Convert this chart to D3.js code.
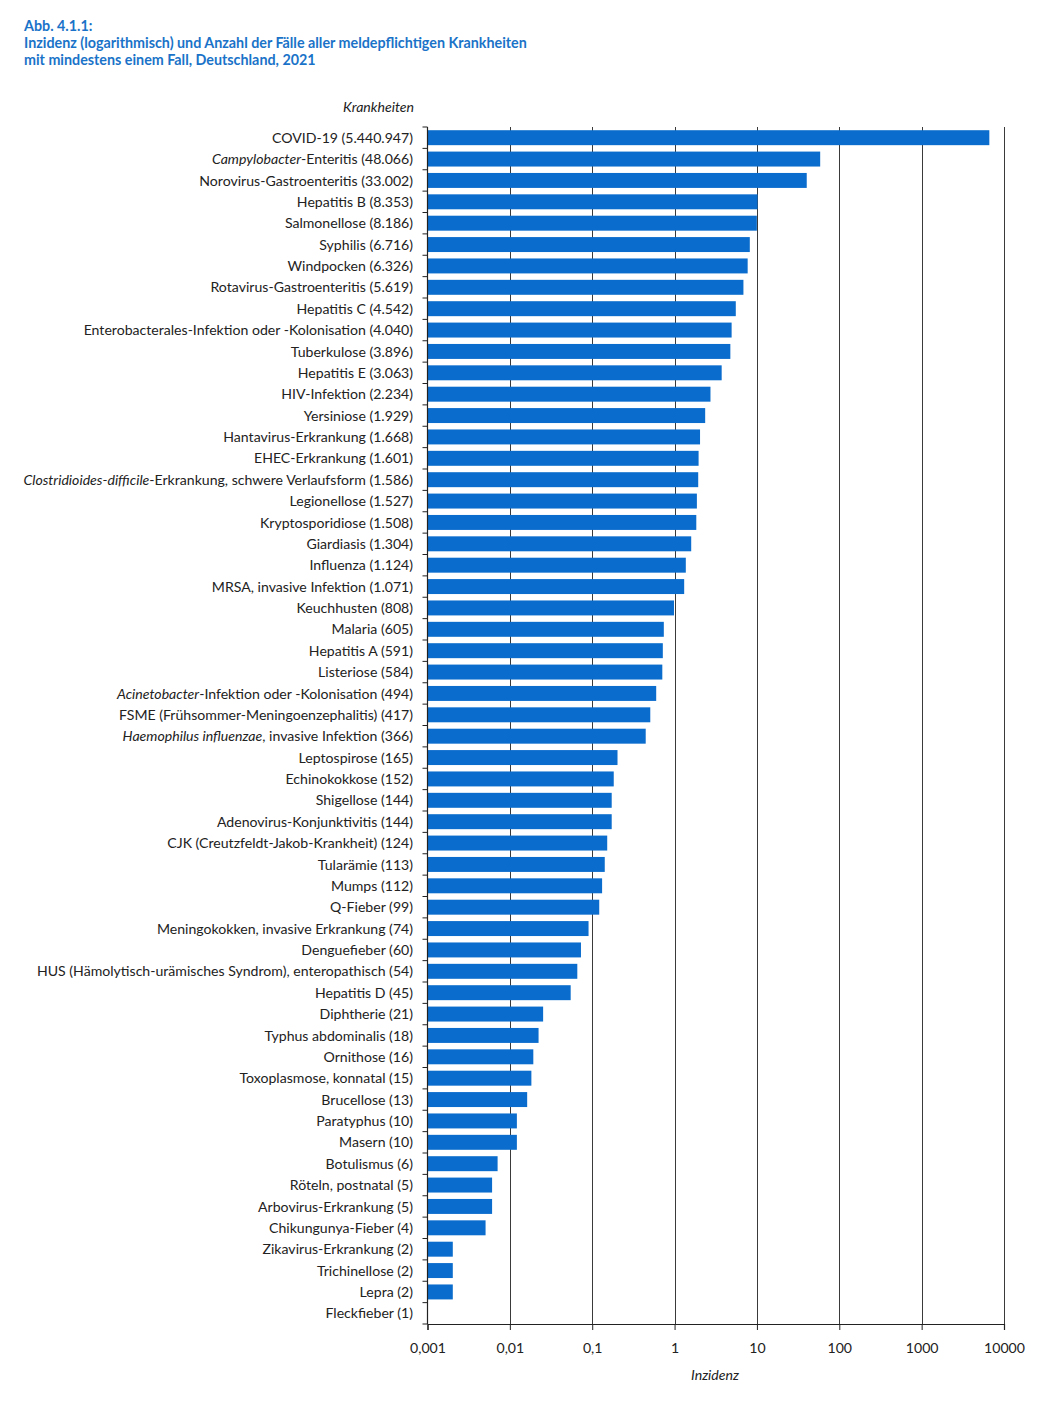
<!DOCTYPE html>
<html><head><meta charset="utf-8">
<script src="https://cdn.jsdelivr.net/npm/d3@7"></script>
<style>
html,body{margin:0;padding:0;background:#fff;}
svg{display:block;}
text{font-family:Lato,"Open Sans",sans-serif;}
</style></head>
<body>
<svg id="chart" width="1050" height="1413"></svg>
<script>
const titleLines = ["Abb. 4.1.1:",
  "Inzidenz (logarithmisch) und Anzahl der Fälle aller meldepflichtigen Krankheiten",
  "mit mindestens einem Fall, Deutschland, 2021"];
const yAxisTitle = "Krankheiten";
const xAxisTitle = "Inzidenz";

// italic leading part of label (if any), regular rest
const italicParts = ["", "Campylobacter", "", "", "", "", "", "", "", "", "", "", "", "", "", "",
  "Clostridioides-difficile", "", "", "", "", "", "", "", "", "", "Acinetobacter", "", "Haemophilus influenzae",
  "", "", "", "", "", "", "", "", "", "", "", "", "", "", "", "", "", "", "", "", "", "", "", "", "", "", ""];
const names = ["COVID-19", "Campylobacter-Enteritis", "Norovirus-Gastroenteritis", "Hepatitis B", "Salmonellose",
  "Syphilis", "Windpocken", "Rotavirus-Gastroenteritis", "Hepatitis C", "Enterobacterales-Infektion oder -Kolonisation",
  "Tuberkulose", "Hepatitis E", "HIV-Infektion", "Yersiniose", "Hantavirus-Erkrankung", "EHEC-Erkrankung",
  "Clostridioides-difficile-Erkrankung, schwere Verlaufsform", "Legionellose", "Kryptosporidiose", "Giardiasis",
  "Influenza", "MRSA, invasive Infektion", "Keuchhusten", "Malaria", "Hepatitis A", "Listeriose",
  "Acinetobacter-Infektion oder -Kolonisation", "FSME (Frühsommer-Meningoenzephalitis)",
  "Haemophilus influenzae, invasive Infektion", "Leptospirose", "Echinokokkose", "Shigellose",
  "Adenovirus-Konjunktivitis", "CJK (Creutzfeldt-Jakob-Krankheit)", "Tularämie", "Mumps", "Q-Fieber",
  "Meningokokken, invasive Erkrankung", "Denguefieber", "HUS (Hämolytisch-urämisches Syndrom), enteropathisch",
  "Hepatitis D", "Diphtherie", "Typhus abdominalis", "Ornithose", "Toxoplasmose, konnatal", "Brucellose",
  "Paratyphus", "Masern", "Botulismus", "Röteln, postnatal", "Arbovirus-Erkrankung", "Chikungunya-Fieber",
  "Zikavirus-Erkrankung", "Trichinellose", "Lepra", "Fleckfieber"];
const cases = ["5.440.947", "48.066", "33.002", "8.353", "8.186", "6.716", "6.326", "5.619", "4.542", "4.040",
  "3.896", "3.063", "2.234", "1.929", "1.668", "1.601", "1.586", "1.527", "1.508", "1.304", "1.124", "1.071",
  "808", "605", "591", "584", "494", "417", "366", "165", "152", "144", "144", "124", "113", "112", "99",
  "74", "60", "54", "45", "21", "18", "16", "15", "13", "10", "10", "6", "5", "5", "4", "2", "2", "2", "1"];
const incidence = [6543.5, 57.81, 39.69, 10.05, 9.84, 8.08, 7.61, 6.76, 5.46, 4.86,
  4.69, 3.68, 2.69, 2.32, 2.01, 1.93, 1.91, 1.84, 1.81, 1.57, 1.35, 1.29,
  0.97, 0.73, 0.71, 0.70, 0.59, 0.50, 0.44, 0.20, 0.18, 0.17, 0.17, 0.15, 0.14, 0.13, 0.12,
  0.089, 0.072, 0.065, 0.054, 0.025, 0.022, 0.019, 0.018, 0.016, 0.012, 0.012, 0.007, 0.006, 0.006, 0.005,
  0.002, 0.002, 0.002, 0.001];
const xTickValues = [0.001, 0.01, 0.1, 1, 10, 100, 1000, 10000];
const xTickLabels = ["0,001", "0,01", "0,1", "1", "10", "100", "1000", "10000"];

(function () {
const blue = "#0a6ccc";
const titleBlue = "#1a73c8";
const ink = "#222";
const fs = 14.1;

const svg = d3.select("#chart");

// Title
svg.append("g").selectAll("text").data(titleLines).join("text")
  .attr("x", 24).attr("y", (d, i) => 31 + i * 17)
  .attr("fill", titleBlue).attr("font-weight", "bold").attr("font-size", 14.3)
  .text(d => d);

const pLeft = 427.5, pRight = 1004, pTop = 127, pBottom = 1324;
const x = d3.scaleLog().domain([0.001, 10000]).range([pLeft, pRight]);
const y = d3.scaleBand().domain(names).range([pTop, pBottom]).paddingInner(0.3).paddingOuter(0.15);

// Grid lines
svg.append("g").selectAll("line").data(xTickValues.slice(1)).join("line")
  .attr("x1", d => Math.round(x(d)) + 0.5).attr("x2", d => Math.round(x(d)) + 0.5)
  .attr("y1", pTop).attr("y2", pBottom)
  .attr("stroke", "#3a3a3a").attr("stroke-width", 1);

// Bars
svg.append("g").selectAll("rect").data(names).join("rect")
  .attr("x", x(0.001) + 0.5)
  .attr("y", d => y(d))
  .attr("height", y.bandwidth())
  .attr("width", (d, i) => Math.max(0, x(incidence[i]) - x(0.001)))
  .attr("fill", blue);

// Y axis line and boundary ticks
const ya = svg.append("g");
ya.append("line").attr("x1", pLeft).attr("x2", pLeft).attr("y1", pTop).attr("y2", pBottom)
  .attr("stroke", ink).attr("stroke-width", 1.2);
const boundaries = d3.range(names.length + 1).map(i => pTop + i * (pBottom - pTop) / names.length);
ya.selectAll("line.tk").data(boundaries).join("line").attr("class", "tk")
  .attr("x1", pLeft - 5).attr("x2", pLeft).attr("y1", d => d).attr("y2", d => d)
  .attr("stroke", ink).attr("stroke-width", 1);

// Y labels
const labels = svg.append("g").selectAll("text").data(names).join("text")
  .attr("x", 413).attr("y", d => y(d) + y.bandwidth() / 2)
  .attr("dy", "0.36em").attr("text-anchor", "end")
  .attr("font-size", fs).attr("fill", ink);
labels.each(function(d, i) {
  const t = d3.select(this);
  const it = italicParts[i];
  if (it) {
    t.append("tspan").attr("font-style", "italic").text(it);
    t.append("tspan").text(d.slice(it.length) + " (" + cases[i] + ")");
  } else {
    t.append("tspan").text(d + " (" + cases[i] + ")");
  }
});

// X axis
const xAxis = d3.axisBottom(x).tickValues(xTickValues)
  .tickFormat((d, i) => xTickLabels[i]).tickSize(6).tickPadding(13);
const xg = svg.append("g").attr("transform", `translate(0,${pBottom})`).call(xAxis);
xg.select(".domain").attr("stroke", ink).attr("stroke-width", 1.2);
xg.selectAll(".tick line").attr("stroke", ink);
xg.selectAll(".tick text").attr("font-size", fs).attr("fill", ink)
  .attr("font-family", "Lato, 'Open Sans', sans-serif");

// Axis titles
svg.append("text").attr("x", 414).attr("y", 112).attr("text-anchor", "end")
  .attr("font-style", "italic").attr("font-size", fs).attr("fill", ink).text(yAxisTitle);
svg.append("text").attr("x", 715).attr("y", 1380).attr("text-anchor", "middle")
  .attr("font-style", "italic").attr("font-size", fs).attr("fill", ink).text(xAxisTitle);
})();
</script>
</body></html>
